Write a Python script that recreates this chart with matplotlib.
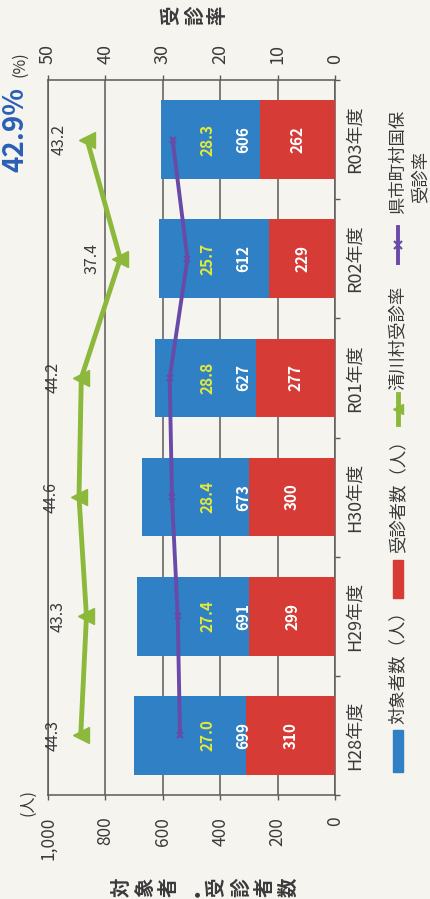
import matplotlib
matplotlib.use('Agg')
import matplotlib.pyplot as plt
from matplotlib.patches import Rectangle
from matplotlib.lines import Line2D

plt.rcParams['font.family'] = ['Noto Sans CJK JP', 'DejaVu Sans']

years = ['H28年度', 'H29年度', 'H30年度', 'R01年度', 'R02年度', 'R03年度']
targets = [699, 691, 673, 627, 612, 606]
examinees = [310, 299, 300, 277, 229, 262]
village_rate = [44.3, 43.3, 44.6, 44.2, 37.4, 43.2]
pref_rate = [27.0, 27.4, 28.4, 28.8, 25.7, 28.3]
count_ticks = [0, 200, 400, 600, 800, 1000]
rate_ticks = [0, 10, 20, 30, 40, 50]

BLUE = '#2f80c4'
RED = '#d63b36'
GREEN = '#8cb83c'
PURPLE = '#6a4aa8'
YELLOW = '#e4e93a'
GRID = '#5a5a5a'
TXT = '#3a3a3a'

W, H = 430, 899


def fx(x):
    return x / W


def fy(y):
    return 1 - y / H


fig = plt.figure(figsize=(W / 100, H / 100), dpi=100, facecolor='#f6f4ef')

# chart is drawn rotated: categories run bottom -> top, values right -> left
ax = fig.add_axes([fx(48), fy(795), (335 - 48) / W, (795 - 80) / H])
ax.set_facecolor('none')
pos = list(range(len(years)))

ax.barh(pos, targets, height=0.66, color=BLUE, zorder=2)
ax.barh(pos, examinees, height=0.66, color=RED, zorder=3)
ax.set_xlim(1000, 0)
ax.set_ylim(-0.5, 5.5)

ax.set_xticks(count_ticks)
ax.set_xticklabels([f'{v:,}' for v in count_ticks])
ax.xaxis.grid(True, color=GRID, lw=1.1, zorder=0)
ax.set_axisbelow(True)
ax.tick_params(axis='x', direction='out', length=3.6, width=1, color=GRID,
               pad=12, labelrotation=90, labelsize=12.5, labelcolor=TXT)

ax.yaxis.tick_right()
ax.set_yticks(pos)
ax.set_yticklabels(years)
ax.set_yticks([p - 0.5 for p in pos] + [5.5], minor=True)
ax.tick_params(axis='y', which='major', length=0, pad=8, labelrotation=90,
               labelsize=13, labelcolor=TXT)
ax.tick_params(axis='y', which='minor', length=3.6, width=1, color=GRID)
for lab in ax.get_yticklabels():
    lab.set_va('center')
for s in ['left', 'top', 'right', 'bottom']:
    ax.spines[s].set_color(GRID)
    ax.spines[s].set_linewidth(1.1)

for i in pos:
    ax.text(examinees[i] / 2, i, str(examinees[i]), rotation=90, color='white',
            fontsize=11, fontweight='bold', ha='center', va='center', zorder=5)
    ax.text(320, i, str(targets[i]), rotation=90, color='white',
            fontsize=11, fontweight='bold', ha='center', va='center', zorder=5)
    ax.text(445, i, f'{pref_rate[i]:.1f}', rotation=90, color=YELLOW,
            fontsize=11, fontweight='bold', ha='center', va='center', zorder=5)

ax2 = ax.twiny()
ax2.set_xlim(50, 0)
ax2.set_xticks(rate_ticks)
ax2.tick_params(axis='x', direction='out', length=3.6, width=1, color=GRID,
                pad=8, labelrotation=90, labelsize=13, labelcolor=TXT)
for s in ['left', 'top', 'right', 'bottom']:
    ax2.spines[s].set_visible(False)

ax2.plot(village_rate, pos, color=GREEN, lw=3.5, marker='<', ms=11, zorder=4)
ax2.plot(pref_rate, pos, color=PURPLE, lw=2.8, marker='x', ms=5, mew=1.5, zorder=4)
for i in pos:
    ax2.annotate(f'{village_rate[i]:.1f}', (village_rate[i], i), xytext=(-28, 0),
                 textcoords='offset pixels', rotation=90, fontsize=11.5,
                 color=TXT, ha='center', va='center')

# axis titles and units
for k, ch in enumerate('対象者・受診者数'):
    fig.text(fx(122 + k * 23.8), fy(887), ch, rotation=90, fontsize=14,
             fontweight='bold', color=TXT, ha='center', va='center')
for k, ch in enumerate('受診率'):
    fig.text(fx(172 + k * 23), fy(15), ch, rotation=90, fontsize=14,
             fontweight='bold', color=TXT, ha='center', va='center')
fig.text(fx(28), fy(803), '(人)', rotation=90, fontsize=11.5, color=TXT,
         ha='center', va='center')
fig.text(fx(20), fy(64), '(%)', rotation=90, fontsize=11.5, color=TXT,
         ha='center', va='center')
fig.text(fx(15), fy(130), '42.9%', rotation=90, fontsize=20, color='#2a5fb5',
         fontweight='bold', ha='center', va='center')

# legend (rotated, drawn by hand)
lx = 398
fig.add_artist(Rectangle((fx(lx - 5), fy(772)), 10 / W, 42 / H,
                         transform=fig.transFigure, color=BLUE))
fig.text(fx(lx), fy(724), '対象者数（人）', rotation=90, fontsize=12.5,
         color=TXT, ha='center', va='bottom')
fig.add_artist(Rectangle((fx(lx - 5), fy(598)), 10 / W, 38 / H,
                         transform=fig.transFigure, color=RED))
fig.text(fx(lx), fy(553), '受診者数（人）', rotation=90, fontsize=12.5,
         color=TXT, ha='center', va='bottom')
fig.add_artist(Line2D([fx(lx), fx(lx)], [fy(424), fy(394)],
                      transform=fig.transFigure, color=GREEN, lw=3.5))
fig.add_artist(Line2D([fx(lx)], [fy(409)], transform=fig.transFigure,
                      color=GREEN, marker='<', ms=7))
fig.text(fx(lx), fy(390), '清川村受診率', rotation=90, fontsize=12.5,
         color=TXT, ha='center', va='bottom')
fig.add_artist(Line2D([fx(lx), fx(lx)], [fy(263), fy(227)],
                      transform=fig.transFigure, color=PURPLE, lw=2.8))
fig.add_artist(Line2D([fx(lx)], [fy(245)], transform=fig.transFigure,
                      color=PURPLE, marker='x', ms=6, mew=1.5))
fig.text(fx(lx), fy(214), '県市町村国保', rotation=90, fontsize=12.5,
         color=TXT, ha='center', va='bottom')
fig.text(fx(420), fy(177), '受診率', rotation=90, fontsize=12.5,
         color=TXT, ha='center', va='center')

fig.savefig('out.png', dpi=100, facecolor=fig.get_facecolor())
